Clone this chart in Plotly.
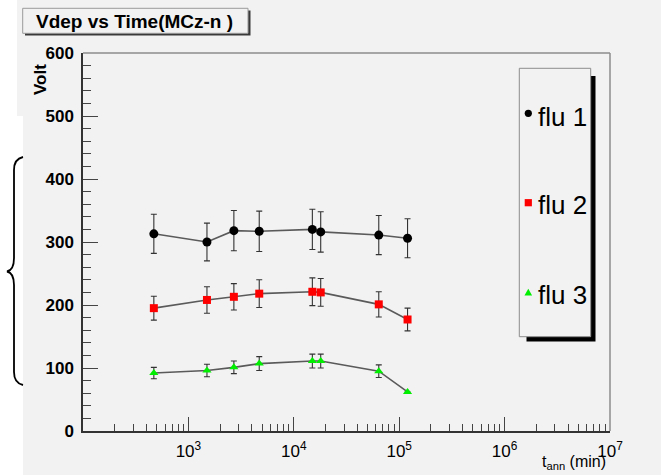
import plotly.graph_objects as go

# Annealing time (minutes) and depletion voltage (V) for three fluences
t_ann = [470, 1500, 2700, 4700, 15000, 18000, 64000, 120000]
flu1 = [313, 300, 318, 317, 320, 316, 311, 306]
flu1_err = [31, 30, 32, 32, 32, 32, 31, 31]
flu2 = [195, 208, 213, 218, 221, 220, 201, 177]
flu2_err = [19, 21, 21, 22, 22, 22, 20, 18]
flu3 = [92, 96, 101, 107, 111, 111, 95, 62]
flu3_err = [9, 10, 10, 11, 11, 11, 10, 0]

series_names = ["flu 1", "flu 2", "flu 3"]
x_tickvals = [1e3, 1e4, 1e5, 1e6, 1e7]
x_ticktext = ["10<sup>3</sup>", "10<sup>4</sup>", "10<sup>5</sup>", "10<sup>6</sup>", "10<sup>7</sup>"]

W, H = 661, 475
L, R, T, B = 83, 610, 53, 431
BG = "#f2f2f2"


def px(x):
    return (x - L) / (R - L)


def py(y):
    return (B - y) / (B - T)


def path(cmds):
    out = []
    for c in cmds:
        if isinstance(c, str):
            out.append(c)
        else:
            out.append(f"{px(c[0]):.5f},{py(c[1]):.5f}")
    return " ".join(out)


styles = [
    dict(symbol="circle", color="black", size=9),
    dict(symbol="square", color="#ff0000", size=8),
    dict(symbol="triangle-up", color="#00ee00", size=8),
]

fig = go.Figure()
for ys, es, st, name in zip([flu1, flu2, flu3], [flu1_err, flu2_err, flu3_err], styles, series_names):
    fig.add_trace(go.Scatter(
        x=t_ann, y=ys, name=name, mode="lines+markers",
        line=dict(color="#5a5a5a", width=1.6),
        marker=dict(symbol=st["symbol"], color=st["color"], size=st["size"], line=dict(width=0)),
        error_y=dict(type="data", array=es, visible=True, color="#333333", thickness=1.1, width=3),
        showlegend=False,
    ))

minor_x = [m * 10 ** e for e in range(2, 7) for m in range(2, 10)]

fig.update_xaxes(
    type="log", range=[2, 7],
    tickmode="array", tickvals=x_tickvals, ticktext=x_ticktext,
    ticks="inside", ticklen=14, tickwidth=1, tickcolor="#444444",
    minor=dict(tickmode="array", tickvals=minor_x, ticks="inside", ticklen=7, tickcolor="#444444", showgrid=False),
    showgrid=False, zeroline=False,
    showline=True, linecolor="#333333", linewidth=1.5,
    tickfont=dict(family="Liberation Sans Narrow, Arial Narrow, Liberation Sans, Arial", size=17, color="black"),
    ticklabelstandoff=4,
)
fig.update_yaxes(
    range=[0, 600], dtick=100,
    ticks="inside", ticklen=15, tickwidth=1, tickcolor="#444444",
    minor=dict(dtick=20, ticks="inside", ticklen=8, tickcolor="#444444", showgrid=False),
    showgrid=False, zeroline=False,
    showline=True, linecolor="#333333", linewidth=1.5,
    tickfont=dict(family="Liberation Sans, Arial", size=17, color="black", weight="bold"),
    ticklabelstandoff=4,
)

shapes = []
# canvas panels
shapes.append(dict(type="rect", xref="paper", yref="paper", layer="below",
                   x0=px(17), x1=px(W), y0=py(0), y1=py(116), fillcolor=BG, line=dict(width=0)))
shapes.append(dict(type="rect", xref="paper", yref="paper", layer="below",
                   x0=px(23), x1=px(W), y0=py(116), y1=py(H), fillcolor=BG, line=dict(width=0)))
# top and right frame
shapes.append(dict(type="line", xref="paper", yref="paper", x0=0, x1=1, y0=1, y1=1,
                   line=dict(color="#8c8c8c", width=1.5)))
shapes.append(dict(type="line", xref="paper", yref="paper", x0=1, x1=1, y0=0, y1=1,
                   line=dict(color="#8c8c8c", width=1.5)))
# title box with shadow
shapes.append(dict(type="rect", xref="paper", yref="paper",
                   x0=px(25), x1=px(250.5), y0=py(10.5), y1=py(35.5), fillcolor="#3a3a3a", line=dict(width=0)))
shapes.append(dict(type="rect", xref="paper", yref="paper",
                   x0=px(22.7), x1=px(248), y0=py(8.3), y1=py(33.3), fillcolor=BG,
                   line=dict(color="#9a9a9a", width=1)))
# legend box with shadow
shapes.append(dict(type="rect", xref="paper", yref="paper",
                   x0=px(526.5), x1=px(595.5), y0=py(76), y1=py(341.5), fillcolor="black", line=dict(width=0)))
shapes.append(dict(type="rect", xref="paper", yref="paper",
                   x0=px(519.3), x1=px(590.7), y0=py(68.3), y1=py(336.7), fillcolor=BG,
                   line=dict(color="#8c8c8c", width=1)))
# legend symbols
lx = 528.3
shapes.append(dict(type="circle", xref="paper", yref="paper",
                   x0=px(lx - 3.6), x1=px(lx + 3.6), y0=py(113.3 - 3.6), y1=py(113.3 + 3.6),
                   fillcolor="black", line=dict(width=0)))
shapes.append(dict(type="rect", xref="paper", yref="paper",
                   x0=px(lx - 3.6), x1=px(lx + 3.6), y0=py(202.7 - 3.6), y1=py(202.7 + 3.6),
                   fillcolor="#ff0000", line=dict(width=0)))
shapes.append(dict(type="path", xref="paper", yref="paper",
                   path=path(["M", (lx - 3.8, 295.5), "L", (lx + 3.8, 295.5), "L", (lx, 288.8), "Z"]),
                   fillcolor="#00ee00", line=dict(width=0)))
# curly brace on the left
brace = ["M", (23, 157), "Q", (14, 159), (14, 170), "L", (14, 258), "Q", (14, 270), (7, 271.5),
         "Q", (14, 273), (14, 285), "L", (14, 372), "Q", (14, 383), (23, 385)]
shapes.append(dict(type="path", xref="paper", yref="paper", path=path(brace),
                   line=dict(color="black", width=1.8)))

annotations = [
    dict(text="<b>Vdep vs Time(MCz-n )</b>", x=px(134), y=py(21), xref="paper", yref="paper",
         showarrow=False, xanchor="center", yanchor="middle",
         font=dict(family="Liberation Sans, Arial", size=19, color="black")),
    dict(text="<b>Volt</b>", x=px(41), y=py(80), xref="paper", yref="paper", textangle=-90,
         showarrow=False, xanchor="center", yanchor="middle",
         font=dict(family="Liberation Sans, Arial", size=17, color="black")),
    dict(text="t<sub>ann</sub> (min)", x=px(608), y=py(462), xref="paper", yref="paper",
         showarrow=False, xanchor="right", yanchor="middle",
         font=dict(family="Liberation Sans Narrow, Arial Narrow, Liberation Sans, Arial", size=16, color="black")),
]
for name, yc in zip(series_names, [116.7, 205, 295]):
    annotations.append(dict(text=name, x=px(536), y=py(yc), xref="paper", yref="paper",
                            showarrow=False, xanchor="left", yanchor="middle",
                            font=dict(family="Liberation Sans Narrow, Liberation Sans, Arial", size=26, color="black")))

fig.update_layout(
    width=W, height=H,
    margin=dict(l=L, r=W - R, t=T, b=H - B, pad=0),
    paper_bgcolor="white", plot_bgcolor=BG,
    shapes=shapes, annotations=annotations,
    showlegend=False,
)

fig.write_html("out.html")
